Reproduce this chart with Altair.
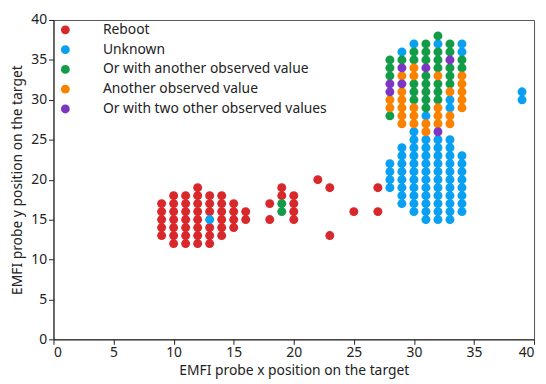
import altair as alt
import pandas as pd

categories = ["Reboot", "Unknown", "Or with another observed value",
              "Another observed value", "Or with two other observed values"]
colors = ["#d8282c", "#0aa0f2", "#139c48", "#fb8200", "#7b36c2"]

# column x -> list of y values, per category
reboot = {
    9: [13, 14, 15, 16, 17],
    10: [12, 13, 14, 15, 16, 17, 18],
    11: [12, 13, 14, 15, 16, 17, 18],
    12: [12, 13, 14, 15, 16, 17, 18, 19],
    13: [12, 13, 14, 16, 17, 18],
    14: [13, 14, 15, 16, 17, 18],
    15: [14, 15, 16, 17],
    16: [15, 16],
    18: [15, 17],
    19: [18, 19],
    20: [15, 16, 17, 18],
    22: [20],
    23: [13, 19],
    25: [16],
    27: [16, 19],
}
unknown = {
    13: [15],
    28: [19, 20, 21, 22],
    29: [17, 18, 19, 20, 21, 22, 23, 24, 36],
    30: [16, 17, 18, 19, 20, 21, 22, 23, 24, 25, 26, 37],
    31: [15, 16, 17, 18, 19, 20, 21, 22, 23, 24, 25, 28],
    32: [15, 16, 17, 18, 19, 20, 21, 22, 23, 24, 25, 37],
    33: [15, 16, 17, 18, 19, 20, 21, 22, 23, 24, 25, 29, 30],
    34: [16, 17, 18, 19, 20, 21, 22, 23, 36, 37],
    39: [30, 31],
}
with_another = {
    19: [16, 17],
    28: [28, 33, 34, 35],
    29: [35],
    30: [30, 31, 32, 35, 36],
    31: [29, 30, 31, 32, 33, 35, 36, 37],
    32: [30, 31, 32, 34, 35, 36, 38],
    33: [32, 33, 34, 36, 37],
    34: [34, 35],
}
another = {
    28: [29, 30],
    29: [27, 28, 29, 30, 31, 33],
    30: [27, 28, 29, 33, 34],
    31: [26, 27],
    32: [27, 28, 29, 33],
    33: [27, 28, 31],
    34: [29, 30, 31, 32, 33],
}
with_two = {
    28: [31, 32],
    29: [32, 34],
    31: [34],
    32: [26],
    33: [35],
}

x_ticks = [0, 5, 10, 15, 20, 25, 30, 35, 40]
y_ticks = [0, 5, 10, 15, 20, 25, 30, 35, 40]

rows = []
for cat, cols in zip(categories, [reboot, unknown, with_another, another, with_two]):
    for x, ys in cols.items():
        for y in ys:
            rows.append({"x": x, "y": y, "result": cat, "order": categories.index(cat)})
df = pd.DataFrame(rows)

FONT = "Noto Sans"
TXT = "#222"

axis_common = dict(grid=False, tickSize=5, labelFontSize=14,
                   titleFontSize=14, titleFontWeight="normal", domainColor=TXT,
                   tickColor=TXT, labelColor=TXT, titleColor=TXT,
                   labelFont=FONT, titleFont=FONT)

chart = alt.Chart(df).mark_circle(size=82, opacity=1).encode(
    x=alt.X("x:Q", title="EMFI probe x position on the target",
            scale=alt.Scale(domain=[0, 40], nice=False, zero=True),
            axis=alt.Axis(values=x_ticks, labelPadding=1, titlePadding=5, **axis_common)),
    y=alt.Y("y:Q", title="EMFI probe y position on the target",
            scale=alt.Scale(domain=[0, 40], nice=False, zero=True),
            axis=alt.Axis(values=y_ticks, labelPadding=2, titlePadding=6, **axis_common)),
    color=alt.Color("result:N", sort=categories,
                    scale=alt.Scale(domain=categories, range=colors),
                    legend=alt.Legend(title=None, orient="none", legendX=5, legendY=3,
                                      symbolSize=80, symbolType="circle", labelFontSize=14,
                                      labelFont=FONT, labelColor=TXT, labelOffset=31,
                                      labelLimit=400, rowPadding=6, symbolStrokeWidth=0)),
    order=alt.Order("order:Q"),
).properties(
    width=486, height=323,
    autosize=alt.AutoSizeParams(type="none"),
    padding={"left": 46, "top": 10, "right": 4, "bottom": 40},
).configure_view(stroke="#555", strokeWidth=1)

chart.save("out.html", embed_options={"renderer": "svg", "actions": False})
